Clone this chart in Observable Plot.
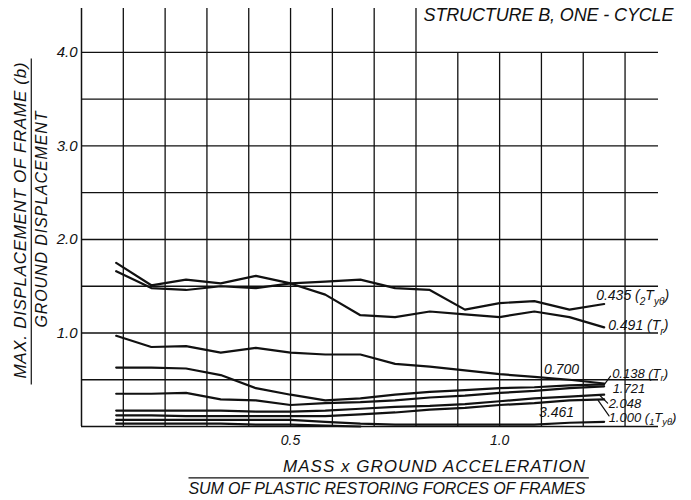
<!DOCTYPE html>
<html><head><meta charset="utf-8">
<script src="https://cdn.jsdelivr.net/npm/d3@7"></script>
<script src="https://cdn.jsdelivr.net/npm/@observablehq/plot@0.6"></script>
<style>
html,body{margin:0;padding:0;background:#fff;}
#chart svg{display:block;}
</style></head><body><div id="chart"></div>
<script>
// ---- data ----
const ratio = [0.083,0.167,0.25,0.333,0.417,0.5,0.583,0.667,0.75,0.833,0.917,1.0,1.083,1.167,1.25];
const s0435 = [1.66,1.48,1.46,1.50,1.48,1.53,1.55,1.57,1.48,1.46,1.25,1.32,1.34,1.25,1.31];
const s0491 = [1.75,1.51,1.57,1.53,1.61,1.53,1.41,1.19,1.17,1.23,1.20,1.17,1.23,1.17,1.06];
const s0700 = [0.97,0.85,0.86,0.79,0.84,0.79,0.77,0.77,0.67,0.64,0.60,0.56,0.53,0.50,0.46];
const s0138 = [0.63,0.63,0.62,0.55,0.41,0.34,0.28,0.30,0.34,0.37,0.39,0.41,0.42,0.44,0.45];
const s1721 = [0.35,0.35,0.36,0.29,0.28,0.23,0.25,0.26,0.28,0.31,0.33,0.36,0.38,0.41,0.43];
const s2048 = [0.17,0.17,0.17,0.17,0.16,0.16,0.17,0.19,0.21,0.22,0.24,0.27,0.30,0.32,0.34];
const s1000 = [0.12,0.12,0.11,0.11,0.11,0.11,0.11,0.13,0.15,0.18,0.20,0.23,0.25,0.28,0.29];
const s3461 = [0.07,0.07,0.07,0.07,0.07,0.07,0.05,0.03,0.02,0.02,0.02,0.02,0.02,0.04,0.05];
const sBase = [0.03,0.03,0.03,0.03,0.02,0.02,0.01,0.0,null,null,null,null,null,null,null];

const seriesNames = ["0.435","0.491","0.700","0.138","1.721","2.048","1.000","3.461","base"];
const seriesValues = [s0435,s0491,s0700,s0138,s1721,s2048,s1000,s3461,sBase];
const curveLabels = ["0.435 ({2}T{yθ})","0.491 (T{r})","0.700","0.138 (T{r})","1.721","2.048","1.000 ({1}T{yθ})","3.461",null];

const xTicks = [0.5, 1.0];
const yTicks = [1.0, 2.0, 3.0, 4.0];
const xGrid = [0.1,0.2,0.3,0.4,0.5,0.6,0.7,0.8,0.9,1.0,1.1,1.2,1.3];
const yGrid = [0.5,1.0,1.5,2.0,2.5,3.0,3.5,4.0];
const xMax = 1.38, yMax = 4.47;

const title = "STRUCTURE B, ONE - CYCLE";
const yLabelTop = "MAX. DISPLACEMENT OF FRAME (b)";
const yLabelBottom = "GROUND DISPLACEMENT";
const xLabelTop = "MASS x GROUND ACCELERATION";
const xLabelBottom = "SUM OF PLASTIC RESTORING FORCES OF FRAMES";

// ---- build table ----
const rows = [];
seriesNames.forEach((name, j) => {
  seriesValues[j].forEach((v, i) => { if (v != null) rows.push({x: ratio[i], y: v, s: name}); });
});
const ends = seriesNames.map((name, j) => {
  const r = rows.filter(d => d.s === name);
  return Object.assign({}, r[r.length - 1], {label: curveLabels[j]});
});
const E = n => [ends[seriesNames.indexOf(n)]];

// per-label placement (pixel offsets from the curve end)
const lab = (n, o) => Plot.text(E(n), Object.assign({x: "x", y: "y", text: "label", fontSize: 14, lineAnchor: "middle"}, o));
const lead = (n, o) => Plot.vector(E(n), Object.assign({x: "x", y: "y", anchor: "start", stroke: "#111", strokeWidth: 1.2,
  shape: {draw(ctx, l) { ctx.moveTo(0, 0); ctx.lineTo(0, -l); }}}, o));

const ink = "#111";
const svg = Plot.plot({
  width: 691, height: 500,
  marginLeft: 81, marginRight: 33, marginTop: 8, marginBottom: 74,
  x: {domain: [0, xMax]},
  y: {domain: [0, yMax]},
  style: {fontFamily: "'Liberation Sans', Arial, sans-serif", fontStyle: "italic", fontSize: "14px", color: ink, background: "#fff"},
  marks: [
    Plot.ruleX(xGrid, {x: d => d, y1: 0, y2: d => d < 0.85 ? yMax : 4.0, stroke: ink, strokeWidth: 1.3}),
    Plot.ruleY(yGrid, {y: d => d, x1: 0, x2: xMax, stroke: ink, strokeWidth: 1.3}),
    Plot.ruleX([0], {y1: 0, y2: yMax, stroke: ink, strokeWidth: 1.5}),
    Plot.ruleY([0], {x1: 0, x2: xMax, stroke: ink, strokeWidth: 1.7}),
    Plot.axisY(yTicks, {tickSize: 0, tickPadding: 4, tickFormat: d3.format(".1f"), label: null, fontSize: 15}),
    Plot.axisX(xTicks, {tickSize: 0, tickPadding: 9, tickFormat: d3.format(".1f"), label: null, fontSize: 14}),
    Plot.line(rows, {x: "x", y: "y", z: "s", stroke: ink, strokeWidth: 2.2, strokeLinejoin: "round"}),
    lab("0.435", {dx: -8, dy: -8, textAnchor: "start"}),
    lab("0.491", {dx: 4, dy: -1.5, textAnchor: "start"}),
    lab("0.700", {dx: -25, dy: -14, textAnchor: "end"}),
    lab("0.138", {dx: 8, dy: -11, textAnchor: "start", fontSize: 13}),
    lab("1.721", {dx: 8.5, dy: 2.5, textAnchor: "start", fontSize: 13}),
    lab("2.048", {dx: 4.5, dy: 9, textAnchor: "start", fontSize: 13}),
    lab("1.000", {dx: 4.5, dy: 18, textAnchor: "start", fontSize: 13}),
    lab("3.461", {dx: -30, dy: -9, textAnchor: "end"}),
    lead("0.138", {length: 9, rotate: 37, dx: 1, dy: -1}),
    lead("2.048", {length: 12, rotate: 135, dx: -5, dy: 0}),
    lead("1.000", {length: 19, rotate: 145, dx: -6, dy: 1}),
    Plot.text([title], {frameAnchor: "top-right", dx: 15, dy: 0, textAnchor: "end", lineAnchor: "top", fontSize: 18}),
    Plot.text([yLabelTop], {frameAnchor: "left", rotate: -90, dx: -61, dy: 3, lineAnchor: "middle", textAnchor: "middle", fontSize: 17}),
    Plot.text([yLabelBottom], {frameAnchor: "left", rotate: -90, dx: -40, dy: 2, lineAnchor: "middle", textAnchor: "middle", fontSize: 16}),
    Plot.text([xLabelTop], {frameAnchor: "bottom", dx: 64, dy: 40, lineAnchor: "middle", textAnchor: "middle", fontSize: 17}),
    Plot.text([xLabelBottom], {frameAnchor: "bottom", dx: 17, dy: 62, lineAnchor: "middle", textAnchor: "middle", fontSize: 16})
  ]
});
document.getElementById("chart").append(svg);
svg.style.overflow = "visible";

// subscripts: {..} segments become lowered small tspans
svg.querySelectorAll("text").forEach(t => {
  const s = t.textContent;
  if (!s.includes("{")) return;
  const fs = parseFloat(getComputedStyle(t).fontSize) || 14;
  const target = t.querySelector("tspan") || t;
  while (target.firstChild) target.removeChild(target.firstChild);
  const parts = s.split(/(\{[^}]*\})/).filter(p => p.length);
  let low = false;
  parts.forEach(p => {
    const ts = document.createElementNS("http://www.w3.org/2000/svg", "tspan");
    if (p.startsWith("{")) {
      ts.textContent = p.slice(1, -1);
      ts.setAttribute("font-size", (fs * 0.72).toFixed(1));
      if (!low) ts.setAttribute("dy", (fs * 0.3).toFixed(1));
      low = true;
    } else {
      ts.textContent = p;
      if (low) ts.setAttribute("dy", (-fs * 0.3).toFixed(1));
      low = false;
    }
    target.appendChild(ts);
  });
});

// stretch the hand-lettered titles to the widths seen in the reference
const findText = str => [...svg.querySelectorAll("text")].find(t => t.textContent === str);
[[title, 250], [yLabelTop, 316], [yLabelBottom, 216], [xLabelTop, 302], [xLabelBottom, 397]].forEach(([str, w]) => {
  const el = findText(str);
  if (!el) return;
  const target = el.querySelector("tspan") || el;
  target.setAttribute("textLength", w);
  target.setAttribute("lengthAdjust", "spacing");
});

// fraction bars of the two axis titles
function box(str) {
  const el = findText(str);
  const r = el.getBoundingClientRect(), o = svg.getBoundingClientRect();
  return {x0: r.left - o.left, x1: r.right - o.left, y0: r.top - o.top, y1: r.bottom - o.top};
}
const g = d3.select(svg).append("g").attr("stroke", ink).attr("stroke-width", 1.2);
{
  const a = box(yLabelTop), b = box(yLabelBottom);
  const xm = (a.x1 + b.x0) / 2;
  g.append("line").attr("x1", xm).attr("x2", xm).attr("y1", Math.min(a.y0, b.y0) - 4).attr("y2", Math.max(a.y1, b.y1) + 6);
}
{
  const a = box(xLabelTop), b = box(xLabelBottom);
  const ym = (a.y1 + b.y0) / 2;
  g.append("line").attr("y1", ym).attr("y2", ym).attr("x1", Math.min(a.x0, b.x0)).attr("x2", Math.max(a.x1, b.x1) + 3);
}
</script></body></html>
